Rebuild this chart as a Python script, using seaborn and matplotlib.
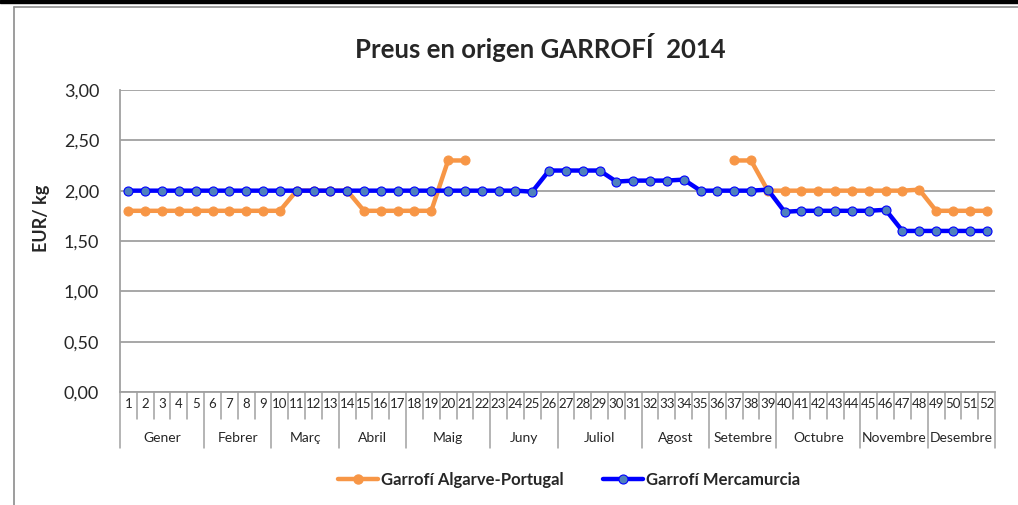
import numpy as np
import pandas as pd
import matplotlib
matplotlib.use("Agg")
import matplotlib.pyplot as plt
from matplotlib.lines import Line2D
from matplotlib.patches import Rectangle
import seaborn as sns

# Weekly prices (EUR/kg), 2014
weeks = list(range(1, 53))
algarve = [1.80, 1.80, 1.80, 1.80, 1.80, 1.80, 1.80, 1.80, 1.80, 1.80,
           2.00, 2.00, 2.00, 2.00, 1.80, 1.80, 1.80, 1.80, 1.80, 2.30,
           2.30, np.nan, np.nan, np.nan, np.nan, np.nan, np.nan, np.nan, np.nan, np.nan,
           np.nan, np.nan, np.nan, np.nan, np.nan, np.nan, 2.30, 2.30, 2.00, 2.00,
           2.00, 2.00, 2.00, 2.00, 2.00, 2.00, 2.00, 2.01, 1.80, 1.80,
           1.80, 1.80]
mercamurcia = [2.00, 2.00, 2.00, 2.00, 2.00, 2.00, 2.00, 2.00, 2.00, 2.00,
               2.00, 2.00, 2.00, 2.00, 2.00, 2.00, 2.00, 2.00, 2.00, 2.00,
               2.00, 2.00, 2.00, 2.00, 1.99, 2.20, 2.20, 2.20, 2.20, 2.09,
               2.10, 2.10, 2.10, 2.11, 2.00, 2.00, 2.00, 2.00, 2.01, 1.79,
               1.80, 1.80, 1.80, 1.80, 1.80, 1.81, 1.60, 1.60, 1.60, 1.60,
               1.60, 1.60]

months = ["Gener", "Febrer", "Març", "Abril", "Maig", "Juny", "Juliol",
          "Agost", "Setembre", "Octubre", "Novembre", "Desembre"]
month_weeks = [5, 4, 4, 4, 5, 4, 5, 4, 4, 5, 4, 4]

yticks = [0, 0.5, 1.0, 1.5, 2.0, 2.5, 3.0]

ORANGE = "#F79646"
BLUE = "#0000FF"
BLUE_FILL = "#4F81BD"
GRAY = "#A0A0A0"

sns.set_style("white")
plt.rcParams["font.family"] = ["Lato", "DejaVu Sans"]

W, H = 1018, 505
fig = plt.figure(figsize=(W / 100, H / 100), dpi=100)
ax = fig.add_axes([120 / W, 1 - 392 / H, 875 / W, 302 / H])

df = pd.DataFrame({"week": weeks, "Algarve": algarve, "Mercamurcia": mercamurcia})

# orange series drawn in contiguous runs so the gap stays open
valid = df["Algarve"].notna()
run_id = (valid != valid.shift()).cumsum()
for _, seg in df[valid].groupby(run_id[valid]):
    sns.lineplot(data=seg, x="week", y="Algarve", ax=ax, color=ORANGE,
                 linewidth=3.2, marker="o", markersize=6.5, markeredgecolor=ORANGE,
                 markerfacecolor=ORANGE, estimator=None, sort=False, zorder=3)

sns.lineplot(data=df, x="week", y="Mercamurcia", ax=ax, color=BLUE,
             linewidth=3.2, marker="o", markersize=6.5, markeredgecolor=BLUE,
             markeredgewidth=0.8, markerfacecolor=BLUE_FILL,
             estimator=None, sort=False, zorder=4)

ax.set_xlim(0.5, 52.5)
ax.set_ylim(0, 3.0)
ax.set_yticks(yticks)
ax.set_yticklabels([f"{v:.2f}".replace(".", ",") for v in yticks], fontsize=13)
ax.set_xticks(weeks)
ax.set_xticklabels([str(w) for w in weeks], fontsize=9.5)
ax.tick_params(axis="x", length=0, pad=4)
ax.tick_params(axis="y", length=6, width=1.2, color=GRAY, pad=9, direction="out")
ax.set_xlabel("")
ax.set_ylabel("")
ax.grid(axis="y", color=GRAY, linewidth=1.3)
ax.grid(axis="x", visible=False)
for side in ["top", "right"]:
    ax.spines[side].set_visible(False)
for side in ["left", "bottom"]:
    ax.spines[side].set_color(GRAY)
    ax.spines[side].set_linewidth(1.3)

# category separators (short for weeks, long for months)
trans = ax.get_xaxis_transform()
short_y = -(419 - 392) / 302
long_y = -(448 - 392) / 302
bounds = np.cumsum([0] + month_weeks) + 0.5
for k in range(53):
    xb = k + 0.5
    yb = long_y if xb in bounds else short_y
    ax.plot([xb, xb], [0, yb], transform=trans, color=GRAY, lw=1.1,
            clip_on=False, zorder=1)

start = 0
for name, n in zip(months, month_weeks):
    xc = start + 0.5 + n / 2
    ax.text(xc, -(438 - 392) / 302, name, transform=trans, ha="center",
            va="center", fontsize=10)
    start += n

fig.text(42 / W, 1 - 218 / H, "EUR/ kg", rotation=90, ha="center",
         va="center", fontsize=13, fontweight="bold")
fig.text(540 / W, 1 - 48 / H, "Preus en origen GARROFÍ  2014", ha="center",
         va="center", fontsize=18.5, fontweight="bold")

handles = [
    Line2D([], [], color=ORANGE, lw=3.2, marker="o", markersize=6.5,
           markerfacecolor=ORANGE, markeredgecolor=ORANGE),
    Line2D([], [], color=BLUE, lw=3.2, marker="o", markersize=6.5,
           markerfacecolor=BLUE_FILL, markeredgecolor=BLUE, markeredgewidth=0.8),
]
fig.legend(handles, ["Garrofí Algarve-Portugal", "Garrofí Mercamurcia"],
           loc="center", bbox_to_anchor=(569 / W, 1 - 480 / H), ncol=2,
           frameon=False, handlelength=2.4, handletextpad=0.15,
           columnspacing=2.4, prop={"weight": "bold", "size": 12})

# chart area frame
fig.patches.append(Rectangle((0, 1 - 3 / H), 1, 3 / H, transform=fig.transFigure,
                             color="black", zorder=10))
fig.lines.append(Line2D([14 / W, 14 / W], [0, 1 - 7 / H], transform=fig.transFigure,
                        color="#8C8C8C", lw=1.2))
fig.lines.append(Line2D([14 / W, 1], [1 - 7 / H, 1 - 7 / H], transform=fig.transFigure,
                        color="#8C8C8C", lw=1.2))

fig.savefig("out.png", dpi=100)
